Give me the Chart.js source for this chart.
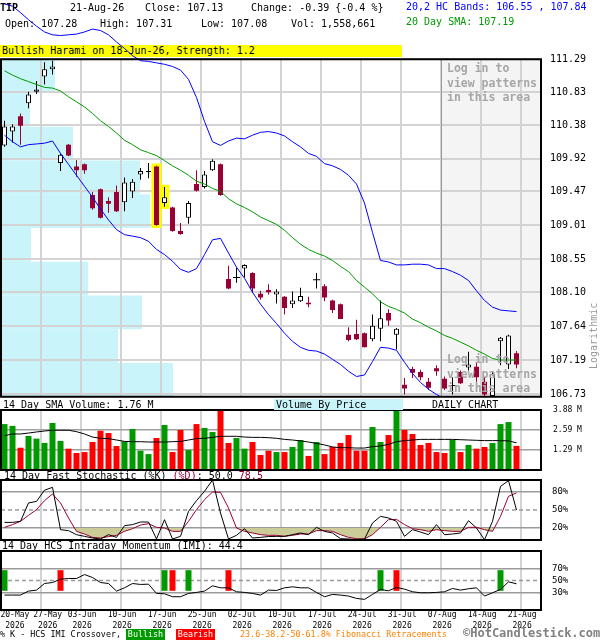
<!DOCTYPE html>
<html>
<head>
<meta charset="utf-8">
<script src="https://cdn.jsdelivr.net/npm/chart.js@4.4.0/dist/chart.umd.min.js"></script>
<style>
  body { margin: 0; background: #fff; }
  #wrap { position: relative; width: 600px; height: 640px; overflow: hidden;
          font-family: "DejaVu Sans Mono", monospace; font-size: 10px; color: #000; }
  .t { position: absolute; white-space: pre; line-height: 12px; z-index: 3; }
  canvas { position: absolute; left: 0; z-index: 2; }
  .login { color: #a6a6a6; font-weight: bold; font-size: 11.5px; line-height: 14.5px; }
  .small { font-size: 8.4px; line-height: 11px; }
</style>
</head>
<body>
<div id="wrap">
  <!-- header -->
  <div class="t" style="left:0;top:2px;font-weight:bold">TIP</div>
  <div class="t" style="left:70px;top:2px">21-Aug-26</div>
  <div class="t" style="left:145px;top:2px">Close: 107.13</div>
  <div class="t" style="left:251px;top:2px">Change: -0.39 {-0.4 %}</div>
  <div class="t" style="left:5px;top:18px">Open: 107.28</div>
  <div class="t" style="left:100px;top:18px">High: 107.31</div>
  <div class="t" style="left:201px;top:18px">Low: 107.08</div>
  <div class="t" style="left:291px;top:18px">Vol: 1,558,661</div>
  <div class="t" style="left:406px;top:1px;color:#0000ff">20,2 HC Bands: 106.55 , 107.84</div>
  <div class="t" style="left:406px;top:16px;color:#009900">20 Day SMA: 107.19</div>
  <div class="t" style="left:0;top:45px;width:400px;padding-left:2px;height:12px;background:#ffff00;z-index:0">Bullish Harami on 18-Jun-26, Strength: 1.2</div>
  <div class="t" style="left:563px;top:332px;color:#999;transform:rotate(-90deg);transform-origin:31px 6px">Logarithmic</div>

  <!-- login overlay text -->
  <div class="t login" style="left:447px;top:61px">Log in to
view patterns
in this area</div>
  <div class="t login" style="left:447px;top:352px">Log in to
view patterns
in this area</div>

  <!-- panel titles -->
  <div class="t" style="left:3px;top:399px">14 Day SMA Volume: 1.76 M</div>
  <div class="t" style="left:274px;top:399px;width:127px;padding-left:2px;height:11px;background:#c8f4fa">Volume By Price</div>
  <div class="t" style="left:432px;top:399px">DAILY CHART</div>
  <div class="t" style="left:4px;top:470px">14 Day Fast Stochastic (%K) <span style="color:#990033">(%D)</span>: 50.0 <span style="color:#990033">78.5</span></div>
  <div class="t" style="left:2px;top:540px">14 Day HCS Intraday Momentum (IMI): 44.4</div>

  <!-- bottom legend -->
  <div class="t small" style="left:0;top:629px">% K - HCS IMI Crossover,</div>
  <div class="t small" style="left:126px;top:629px;width:39px;text-align:center;background:#009900;color:#fff">Bullish</div>
  <div class="t small" style="left:176px;top:629px;width:39px;text-align:center;background:#ff0000;color:#fff">Bearish</div>
  <div class="t small" style="left:240px;top:629px;color:#ff8000">23.6-38.2-50-61.8% Fibonacci Retracements</div>
  <div class="t" style="left:463px;top:626px;font-size:12px;line-height:14px;font-weight:bold;color:#808080">©HotCandlestick.com</div>

  <canvas id="vbpChart" width="600" height="400" style="top:0;z-index:1"></canvas>
  <canvas id="priceChart" width="600" height="400" style="top:0"></canvas>
  <canvas id="volChart" width="600" height="72" style="top:400px"></canvas>
  <canvas id="stochChart" width="600" height="64" style="top:478px"></canvas>
  <canvas id="imiChart" width="600" height="84" style="top:548px"></canvas>
</div>

<script>
// daily candles, 20-May-26 .. 21-Aug-26
const opens = [110.10,110.29,110.50,110.68,110.84,111.05,111.15,109.86,110.11,109.81,
  109.84,109.42,109.50,109.34,109.46,109.32,109.47,109.70,109.73,109.81,
  109.31,109.25,108.93,109.11,109.57,109.53,109.76,109.84,108.28,108.30,
  108.42,108.36,108.08,108.13,108.07,108.04,107.94,107.98,107.96,108.27,
  108.18,107.99,107.94,107.53,107.54,107.55,107.47,107.61,107.82,107.53,
  106.86,107.07,107.03,106.90,107.08,106.94,106.85,107.03,107.09,107.10,
  106.90,106.71,107.44,107.13,107.28];
const highs = [110.44,110.39,110.54,110.84,110.99,111.25,111.27,109.99,110.12,109.90,
  109.85,109.46,109.51,109.39,109.55,109.66,109.64,109.79,109.86,109.82,
  109.53,109.26,109.04,109.34,109.76,109.75,109.91,109.85,108.46,108.43,
  108.48,108.37,108.12,108.21,108.14,108.05,108.11,108.16,108.04,108.36,
  108.21,108.00,107.95,107.63,107.73,107.56,107.80,107.99,107.87,107.62,
  106.95,107.10,107.06,106.95,107.12,106.97,106.96,107.05,107.30,107.15,
  106.96,107.04,107.50,107.53,107.31];
const lows = [110.08,110.14,110.11,110.61,110.81,110.94,111.08,109.75,109.95,109.67,
  109.71,109.22,109.10,109.18,109.19,109.20,109.38,109.63,109.65,109.00,
  109.26,108.92,108.88,109.03,109.47,109.51,109.75,109.41,108.14,108.23,
  108.30,108.09,108.00,108.07,107.95,107.80,107.89,107.97,107.90,108.15,
  107.98,107.82,107.74,107.44,107.46,107.36,107.44,107.44,107.65,107.33,
  106.73,106.95,106.92,106.79,106.98,106.79,106.73,106.87,107.05,106.90,
  106.71,106.70,107.12,107.07,107.08];
const closes = [110.36,110.36,110.37,110.80,110.87,111.15,111.19,109.97,109.96,109.76,
  109.76,109.24,109.11,109.30,109.20,109.59,109.60,109.75,109.75,109.01,
  109.39,108.93,108.89,109.31,109.48,109.70,109.89,109.42,108.15,108.30,
  108.47,108.15,108.03,108.10,108.11,107.89,107.99,108.05,107.94,108.27,
  108.03,107.86,107.74,107.46,107.47,107.36,107.65,107.75,107.72,107.61,
  106.81,107.02,106.96,106.82,107.04,106.81,106.85,106.88,107.13,106.96,
  106.73,107.00,107.49,107.52,107.13];

// 20,2 HC bands and 20 day SMA
const upperBand = [112.06,112.03,111.94,111.84,111.75,111.67,111.63,111.62,111.63,111.64,
  111.67,111.71,111.69,111.63,111.53,111.44,111.34,111.27,111.26,111.24,
  111.22,111.19,111.14,111.01,110.76,110.43,110.15,110.10,110.16,110.20,
  110.19,110.24,110.28,110.29,110.27,110.23,110.15,110.08,109.99,109.95,
  109.85,109.82,109.77,109.69,109.57,109.31,108.91,108.53,108.51,108.47,
  108.47,108.48,108.48,108.47,108.42,108.42,108.38,108.33,108.26,108.12,
  107.99,107.90,107.86,107.85,107.84];
const lowerBand = [110.24,110.15,110.08,110.11,110.12,110.13,110.16,109.99,109.84,109.69,
  109.54,109.39,109.23,109.08,108.95,108.88,108.86,108.84,108.79,108.68,
  108.61,108.52,108.41,108.37,108.42,108.61,108.81,108.83,108.63,108.44,
  108.29,108.10,107.94,107.80,107.68,107.55,107.44,107.36,107.32,107.31,
  107.27,107.20,107.13,107.04,106.97,106.99,107.17,107.36,107.35,107.32,
  107.16,107.01,106.89,106.80,106.73,106.67,null,null,null,null,
  null,null,null,null,106.55];
const sma20 = [111.13,111.07,111.02,110.98,110.94,110.90,110.89,110.85,110.77,110.70,
  110.63,110.54,110.44,110.36,110.27,110.17,110.11,110.04,110.00,109.96,
  109.89,109.82,109.76,109.69,109.61,109.57,109.51,109.47,109.37,109.30,
  109.25,109.19,109.12,109.07,109.02,108.94,108.84,108.75,108.68,108.63,
  108.59,108.53,108.45,108.38,108.26,108.17,108.08,107.97,107.91,107.87,
  107.82,107.74,107.69,107.63,107.58,107.52,107.48,107.43,107.38,107.32,
  107.27,107.21,107.19,107.19,107.19];

// volume (millions) and its 14 day SMA
const volumes = [2.97,2.85,1.44,2.20,2.03,1.75,3.04,1.88,1.38,1.10,
  1.16,1.81,2.54,2.39,1.55,1.85,2.65,1.25,1.03,2.07,
  2.91,1.16,2.59,1.29,2.97,2.72,2.46,3.84,1.75,2.07,
  1.38,1.81,0.97,1.25,1.16,1.16,1.49,1.94,0.91,1.81,
  1.03,1.49,1.75,2.26,1.25,1.25,2.78,1.81,2.26,3.84,
  2.59,2.33,1.62,1.75,1.16,1.10,1.94,1.16,1.62,1.38,
  1.49,1.75,2.97,3.10,1.56];
const volSma = [2.22,2.33,2.33,2.39,2.46,2.52,2.57,2.57,2.57,2.48,
  2.33,2.13,2.05,2.03,1.94,1.85,1.83,1.83,1.81,1.81,
  1.81,1.83,1.85,1.94,2.03,2.05,2.11,2.18,2.18,2.18,
  2.13,2.11,2.11,2.09,2.05,1.98,1.94,1.88,1.81,1.72,
  1.62,1.49,1.44,1.44,1.42,1.42,1.51,1.55,1.66,1.83,
  1.90,1.94,1.98,1.98,1.98,1.98,1.98,1.96,1.94,1.92,
  1.90,1.90,1.90,1.88,1.76];

// 14 day fast stochastic
const stochK = [29.4,29.4,31.1,61.7,64.4,83.0,87.8,17.2,15.6,8.9,
  6.1,3.3,1.7,8.9,4.4,23.9,25.6,30.0,30.0,1.7,
  33.9,1.7,6.1,47.8,65.6,81.1,100,45.0,1.7,7.8,
  18.9,3.3,4.4,5.8,6.0,6.1,8.9,11.7,8.9,21.1,
  14.4,11.7,2.2,1.7,0.6,1.7,28.3,39.4,36.7,31.1,
  6.1,17.2,13.3,8.9,25.6,8.9,10.0,11.7,32.2,20.0,
  0.6,31.1,89.4,98.9,50.0];
const stochD = [21.1,25.6,31.1,41.1,50.6,65.6,76.7,61.7,36.7,14.4,
  10.0,4.4,3.3,5.6,7.8,14.4,18.9,25.0,27.2,21.1,
  20.0,14.4,14.4,31.1,50.6,67.2,80.0,79.4,53.3,20.0,
  14.4,11.7,8.9,7.8,7.8,6.1,7.8,10.0,10.0,15.6,
  15.6,14.4,8.9,4.4,2.2,1.7,8.9,21.1,33.9,34.4,
  25.6,18.9,17.2,14.4,17.2,15.6,14.4,14.4,21.1,21.1,
  17.2,14.4,39.4,72.8,78.5];

// 14 day HCS intraday momentum
const imi = [25.3,25.3,25.3,32.0,33.7,44.9,46.6,52.2,53.4,53.4,
  60.1,55.1,46.6,44.9,32.0,37.6,44.9,43.3,43.8,28.1,
  27.5,22.5,22.5,28.1,29.8,32.0,41.0,37.6,37.6,30.9,
  29.8,28.1,25.3,33.7,33.1,37.6,39.3,37.6,37.6,29.8,
  22.5,26.4,25.3,23.6,19.7,18.0,26.4,34.8,32.6,38.2,
  35.4,30.9,29.2,29.2,29.8,30.9,36.5,33.7,36.0,37.6,
  23.6,29.2,34.8,47.8,44.4];
const bullishIdx = [0, 20, 23, 47, 62];
const bearishIdx = [7, 21, 28, 49];
const imiBar = [32.5, 67.5];

// pattern highlight (bullish harami)
const patternIdx = [19, 20];

// volume by price, bands between price ticks, top to bottom
const priceTicks = [111.29, 110.83, 110.38, 109.92, 109.47, 109.01, 108.55, 108.10, 107.64, 107.19, 106.73];
const vbpVolume = [5.4, 2.9, 7.2, 13.9, 14.9, 3.0, 8.7, 14.1, 11.7, 17.2];

const volTicks = [1.29, 2.59, 3.88];
const stochTicks = [20, 50, 80];
const imiTicks = [30, 50, 70];

const dateIdx = [0, 4, 9, 14, 19, 24, 29, 34, 39, 44, 49, 54, 59, 64];
const dateLabels = ['20-May', '27-May', '03-Jun', '10-Jun', '17-Jun', '25-Jun', '02-Jul',
  '10-Jul', '17-Jul', '24-Jul', '31-Jul', '07-Aug', '14-Aug', '21-Aug'];
const dateYear = '2026';

const mono = '"DejaVu Sans Mono", monospace';
Chart.defaults.font.family = mono;
const xMin = -0.4375, xMax = 67.0625;
const loginFrom = dateIdx[11] + 0.5;
const downColor = '#990033';
const idx = opens.map((_, i) => i);

function noPad(s) { s.paddingTop = 0; s.paddingBottom = 0; s.paddingLeft = 0; s.paddingRight = 0; }

function gridX() {
  return {
    type: 'linear', min: xMin, max: xMax, offset: false,
    afterBuildTicks: s => { s.ticks = dateIdx.slice(1).map(k => ({ value: k + 0.5 })); },
    afterFit: s => { s.height = 0; noPad(s); },
    ticks: { display: false },
    grid: { color: '#d3d3d3', lineWidth: 2, drawTicks: false, offset: false },
    border: { display: false }
  };
}

function rightY(min, max, ticks, fmt, size, pad, gridColor) {
  return {
    type: 'linear', position: 'right', min: min, max: max,
    afterBuildTicks: s => { s.ticks = ticks.map(v => ({ value: v })); },
    afterFit: s => { s.width = 59; noPad(s); },
    ticks: { callback: fmt, padding: pad, color: '#000', font: { family: mono, size: size } },
    grid: { color: gridColor, lineWidth: 1.5, drawTicks: false },
    border: { display: false }
  };
}

const panelBorder = {
  id: 'panelBorder',
  afterDraw(chart) {
    const { ctx, chartArea: a } = chart;
    ctx.save();
    ctx.strokeStyle = '#000';
    ctx.lineWidth = 2;
    ctx.strokeRect(a.left, a.top, a.right - a.left, a.bottom - a.top);
    ctx.restore();
  }
};

const loginArea = {
  id: 'loginArea',
  beforeDraw(chart) {
    const { ctx, chartArea: a, scales } = chart;
    const x0 = scales.x.getPixelForValue(loginFrom);
    ctx.save();
    ctx.fillStyle = '#f4f4f4';
    ctx.fillRect(x0, a.top, a.right - x0, a.bottom - a.top);
    ctx.restore();
  },
  beforeDatasetsDraw(chart) {
    const { ctx, chartArea: a, scales } = chart;
    const x0 = Math.round(scales.x.getPixelForValue(loginFrom)) + 0.5;
    ctx.save();
    ctx.strokeStyle = '#999';
    ctx.lineWidth = 1;
    ctx.beginPath();
    ctx.moveTo(x0, a.top);
    ctx.lineTo(x0, a.bottom);
    ctx.stroke();
    ctx.restore();
  }
};

const midLine = {
  id: 'midLine',
  beforeDatasetsDraw(chart) {
    const { ctx, chartArea: a, scales } = chart;
    const y = scales.y.getPixelForValue(50);
    ctx.save();
    ctx.strokeStyle = '#9a9a9a';
    ctx.lineWidth = 1.5;
    ctx.setLineDash([4, 3]);
    ctx.beginPath();
    ctx.moveTo(a.left, y);
    ctx.lineTo(a.right, y);
    ctx.stroke();
    ctx.restore();
  }
};

const baseOptions = (padding) => ({
  responsive: false, animation: false,
  layout: { padding: padding },
  plugins: { legend: { display: false }, tooltip: { enabled: false } }
});

const bar = (extra) => Object.assign({ type: 'bar', grouped: false, borderSkipped: false, inflateAmount: 0 }, extra);
const line = (values, color, extra) => Object.assign({
  type: 'line', data: values.map((v, i) => ({ x: i, y: v })),
  borderColor: color, borderWidth: 1, pointRadius: 0, tension: 0
}, extra);

// volume by price (underlay), one band per price grid step
new Chart('vbpChart', {
  type: 'bar',
  data: {
    labels: vbpVolume.map((_, i) => priceTicks[i] + '-' + priceTicks[i + 1]),
    datasets: [{
      data: vbpVolume,
      backgroundColor: '#c8f4fa', categoryPercentage: 1, barPercentage: 1, inflateAmount: 0
    }]
  },
  options: Object.assign(baseOptions({ left: 1, top: 59.25, bottom: 3.25, right: 59 }), {
    indexAxis: 'y',
    scales: {
      x: { type: 'linear', min: 0, max: 54, display: false },
      y: { type: 'category', offset: true, display: false }
    }
  })
});

// price panel
const upIdx = idx.filter(i => closes[i] > opens[i]);
const downIdx = idx.filter(i => closes[i] < opens[i]);
const dojiIdx = idx.filter(i => closes[i] === opens[i]);

new Chart('priceChart', {
  type: 'line',
  data: {
    datasets: [
      line(upperBand, '#0000ff', { clip: false }),
      line(lowerBand, '#0000ff'),
      line(sma20, '#009900'),
      bar({ data: dojiIdx.map(i => ({ x: i, y: [opens[i] - 0.007, opens[i] + 0.007] })),
            backgroundColor: '#000', barThickness: 7 }),
      bar({ data: upIdx.map(i => ({ x: i, y: [opens[i], closes[i]] })),
            backgroundColor: '#fff', borderColor: '#000', borderWidth: 1, barThickness: 5 }),
      bar({ data: downIdx.map(i => ({ x: i, y: [closes[i], opens[i]] })),
            backgroundColor: downColor, barThickness: 5 }),
      bar({ data: idx.map(i => ({ x: i, y: [lows[i], highs[i]] })),
            backgroundColor: idx.map(i => closes[i] < opens[i] ? downColor : '#000'), barThickness: 1 }),
      bar({ data: patternIdx.map(i => ({ x: i, y: [lows[i] - 0.03, highs[i] + 0.03] })),
            backgroundColor: '#ffff00', barThickness: 10 })
    ]
  },
  options: Object.assign(baseOptions({ left: 1, top: 59.25, bottom: 3.25, right: 0 }), {
    scales: {
      x: gridX(),
      y: {
        type: 'logarithmic', position: 'right', min: 106.73, max: 111.29,
        afterBuildTicks: s => { s.ticks = priceTicks.map(v => ({ value: v })); },
        afterFit: s => { s.width = 59; noPad(s); },
        ticks: { callback: v => Number(v).toFixed(2), padding: 9, color: '#000', font: { family: mono, size: 10 } },
        grid: { color: '#d3d3d3', lineWidth: 2, drawTicks: false },
        border: { display: false }
      }
    }
  }),
  plugins: [loginArea, panelBorder]
});

// volume panel
new Chart('volChart', {
  type: 'line',
  data: {
    datasets: [
      line(volSma, '#000'),
      bar({ data: volumes.map((v, i) => ({ x: i, y: v })),
            backgroundColor: idx.map(i => closes[i] < opens[i] ? '#ff0000' : '#009900'), barThickness: 6 })
    ]
  },
  options: Object.assign(baseOptions({ left: 1, top: 10, bottom: 2, right: 0 }), {
    scales: {
      x: gridX(),
      y: rightY(0, 3.88, volTicks, v => v.toFixed(2) + ' M', 8, 12,
        c => c.tick && c.tick.value >= 3.88 ? 'rgba(0,0,0,0)' : '#a0a0a0')
    }
  }),
  plugins: [panelBorder]
});

// stochastic panel
const khaki = '#cccc99';
new Chart('stochChart', {
  type: 'line',
  data: {
    datasets: [
      line(stochK, '#000'),
      line(stochD, downColor, { fill: { target: { value: 20 }, above: 'rgba(0,0,0,0)', below: khaki } }),
      line(stochD, 'rgba(0,0,0,0)', { fill: { target: { value: 80 }, above: khaki, below: 'rgba(0,0,0,0)' } })
    ]
  },
  options: Object.assign(baseOptions({ left: 1, top: 2, bottom: 2, right: 0 }), {
    scales: {
      x: gridX(),
      y: rightY(0, 100, stochTicks, v => v + '%', 9, 11,
        c => c.tick && c.tick.value === 50 ? 'rgba(0,0,0,0)' : '#9a9a9a')
    }
  }),
  plugins: [midLine, panelBorder]
});

// intraday momentum panel with date axis
new Chart('imiChart', {
  type: 'line',
  data: {
    datasets: [
      line(imi, '#000'),
      bar({ data: bullishIdx.map(i => ({ x: i, y: imiBar })), backgroundColor: '#009900', barThickness: 6 }),
      bar({ data: bearishIdx.map(i => ({ x: i, y: imiBar })), backgroundColor: '#ff0000', barThickness: 6 })
    ]
  },
  options: Object.assign(baseOptions({ left: 1, top: 3, bottom: 0, right: 0 }), {
    scales: {
      x: gridX(),
      xl: {
        type: 'linear', position: 'bottom', min: xMin, max: xMax, offset: false,
        // labels sit just right of their grid line, the first two nudged apart so they fit
        afterBuildTicks: s => { s.ticks = dateIdx.map((k, i) => ({ value: Math.max(k + 0.7, 1.3 + i * 4.1) })); },
        afterFit: s => { s.height = 22; noPad(s); },
        ticks: { autoSkip: false, maxRotation: 0, padding: 0, color: '#000',
                 font: { family: mono, size: 8, lineHeight: 1.35 },
                 callback: (v, i) => [dateLabels[i], dateYear] },
        grid: { display: false, drawTicks: false },
        border: { display: false }
      },
      y: rightY(0, 100, imiTicks, v => v + '%', 9, 11,
        c => c.tick && c.tick.value === 50 ? 'rgba(0,0,0,0)' : '#9a9a9a')
    }
  }),
  plugins: [midLine, panelBorder]
});
</script>
</body>
</html>
